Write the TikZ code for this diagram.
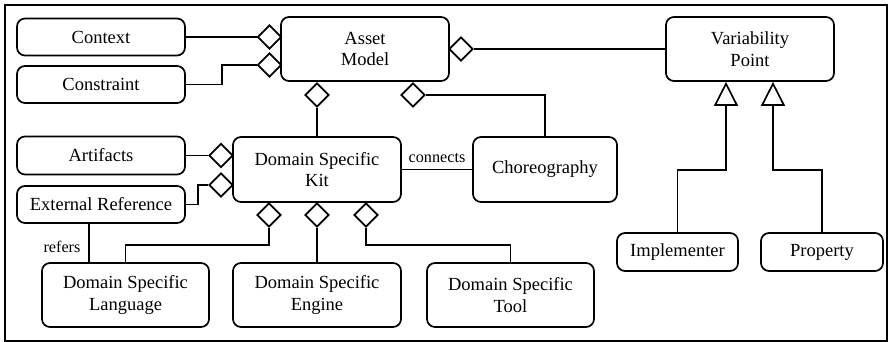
\documentclass[tikz,border=0pt]{standalone}
\usepackage{fontspec}
\setmainfont{Liberation Serif}
\usetikzlibrary{shapes.geometric,arrows.meta}
\begin{document}
\begin{tikzpicture}[x=1pt,y=-1pt,line width=1.7pt,
  box/.style={draw,rounded corners=8pt,align=center,inner sep=0pt,
    font=\fontsize{18.5}{21.5}\selectfont},
  dia/.style={draw,shape=diamond,fill=white,minimum width=24pt,minimum height=24pt,inner sep=0pt},
  gen/.style={-{Triangle[open,length=24pt,width=24pt]}},
  lbl/.style={font=\fontsize{16.2}{19}\selectfont,inner sep=1pt}]
\useasboundingbox (0,0) rectangle (892,342);
\draw (5,5) rectangle (887,341);
% boxes
\node[box,minimum width=168pt,minimum height=37pt] (context) at (101,37) {Context};
\node[box,minimum width=168pt,minimum height=37pt] (constraint) at (101,84.5) {Constraint};
\node[box,minimum width=168pt,minimum height=64pt] (asset) at (365,49) {Asset\\Model};
\node[box,minimum width=168pt,minimum height=64pt] (vp) at (750,49) {Variability\\Point};
\node[box,minimum width=168pt,minimum height=38pt] (artifacts) at (101,155.5) {Artifacts};
\node[box,minimum width=168pt,minimum height=65pt] (dsk) at (317,169.5) {Domain Specific\\Kit};
\node[box,minimum width=168pt,minimum height=37pt] (extref) at (101,204.5) {External Reference};
\node[box,minimum width=144pt,minimum height=65pt] (chor) at (545,169.5) {Choreography};
\node[box,minimum width=167pt,minimum height=64pt] (dsl) at (125.5,295) {Domain Specific\\Language};
\node[box,minimum width=168pt,minimum height=64pt] (dse) at (317,295) {Domain Specific\\Engine};
\node[box,minimum width=167pt,minimum height=64pt] (dst) at (510.5,295) {Domain Specific\\Tool};
\node[box,minimum width=121pt,minimum height=38pt] (impl) at (677.5,252) {Implementer};
\node[box,minimum width=122pt,minimum height=38pt] (prop) at (822,252) {Property};
% diamonds
\node[dia] (dctx) at (269.5,37) {};
\node[dia] (dcon) at (269.5,65) {};
\node[dia] (dvp) at (461,49) {};
\node[dia] (ddsk) at (317,95) {};
\node[dia] (dchor) at (413,95) {};
\node[dia] (dart) at (221,155.5) {};
\node[dia] (dext) at (221,185) {};
\node[dia] (dl) at (269,215) {};
\node[dia] (de) at (317,215) {};
\node[dia] (dt) at (366,215) {};
% connectors
\draw (context.east) -- (dctx.west);
\draw (constraint.east) -- ++(36,0) |- (dcon.west);
\draw (vp.west) -- (dvp.east);
\draw (ddsk.south) -- (dsk.north);
\draw (chor.north) |- (dchor.east);
\draw (artifacts.east) -- (dart.west);
\draw (extref.east) -- ++(12,0) |- (dext.west);
\draw (dl.south) -- ++(0,17) -| (dsl.north);
\draw (de.south) -- (dse.north);
\draw (dt.south) -- ++(0,17) -| (dst.north);
\draw (dsk.east) -- (chor.west);
\node[lbl,anchor=south] (connects) at (437,165) {connects};
\draw ([xshift=-12pt]extref.south) -- ([xshift=-12pt]extref.south |- dsl.north);
\node[lbl] (refers) at (62,247) {refers};
\draw[gen] (impl.north) -- ++(0,-62) -| ([xshift=-24pt]vp.south);
\draw[gen] (prop.north) -- ++(0,-62) -| ([xshift=23pt]vp.south);
\end{tikzpicture}
\end{document}
